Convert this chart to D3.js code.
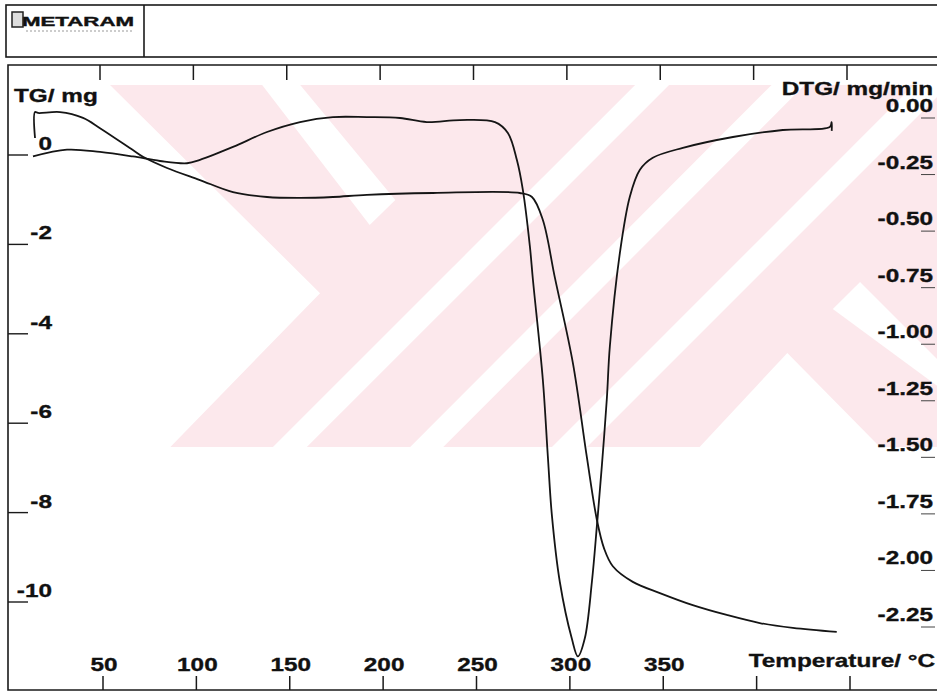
<!DOCTYPE html>
<html>
<head>
<meta charset="utf-8">
<script src="https://cdn.jsdelivr.net/npm/d3@7"></script>
<style>
  html, body { margin: 0; padding: 0; background: #fff; }
  svg { display: block; }
  text { font-family: "Liberation Sans", Arial, Helvetica, sans-serif; font-weight: bold; fill: #111; stroke: #111; stroke-width: 0.35px; }
</style>
</head>
<body>
<svg id="chart" width="937" height="692"></svg>
<script>
// Thermogravimetric trace: temperature (°C) and mass change (mg)
const tgTemperature = [13.6, 13.6, 15.2, 27, 39.3, 48.4, 66, 71.4, 84.3, 101.9, 119.6, 137.8, 155.5,
  173.1, 191.3, 226.7, 273.2, 279.7, 285.5, 292, 301.6, 309.1, 314.5, 318.3, 323, 333.7, 348.2,
  365.8, 384, 401.7, 419.4, 442.9];
const tgMass = [0.38, 0.96, 0.94, 0.96, 0.83, 0.60, 0.11, -0.04, -0.29, -0.56, -0.83, -0.94, -0.96,
  -0.94, -0.89, -0.85, -0.85, -0.94, -1.45, -2.75, -4.65, -6.76, -8.17, -8.80, -9.20, -9.55, -9.80,
  -10.07, -10.29, -10.47, -10.58, -10.67];

// Derivative trace: temperature (°C) and rate of mass change (mg/min)
const dtgTemperature = [12.5, 30.7, 48.4, 66, 80.5, 95, 101.9, 119.6, 137.8, 155.5, 173.1, 191.3, 209,
  223.4, 241.1, 259.9, 266.8, 271.6, 274.8, 278.6, 280.2, 285.5, 288.2, 290.4, 294.6, 301, 304.3,
  308, 311.8, 314.5, 317.1, 319.8, 321.4, 326.8, 332.1, 337.5, 344.4, 360.5, 387.3, 414, 439.2,
  440.2, 440.2];
const dtgRate = [-0.17, -0.14, -0.15, -0.17, -0.19, -0.20, -0.185, -0.128, -0.062, -0.018, 0.004, 0.004, 0.0,
  -0.018, -0.009, -0.018, -0.066, -0.185, -0.317, -0.569, -0.714, -1.155, -1.495, -1.759, -2.05, -2.30, -2.38,
  -2.30, -2.05, -1.80, -1.54, -1.24, -1.01, -0.595, -0.348, -0.229, -0.176, -0.132, -0.084, -0.053, -0.040,
  -0.018, -0.057];

// Axis ticks and labels
const tempTicks = [50, 100, 150, 200, 250, 300, 350, 400, 450];
const tempLabels = [50, 100, 150, 200, 250, 300, 350];
const tgTicks = [0, -2, -4, -6, -8, -10];
const dtgTicks = [0, -0.25, -0.5, -0.75, -1.0, -1.25, -1.5, -1.75, -2.0, -2.25];

// Background emblem: pink outline and white bands, in a 0..100 grid over the plot area
const emblemOutline = [[0, 0], [100, 0], [100, 100], [7.3, 100], [25.4, 57.5]];
const emblemBands = [
  [[18.4, 0], [23, 0], [34.5, 31.8], [31.4, 38.7]],
  [[19.7, 100], [23.8, 100], [67.6, 0], [63.5, 0]],
  [[36.3, 100], [40.3, 100], [84, 0], [80, 0]],
  [[53.45, 100], [57.68, 100], [100, 3.3], [100, 0], [97.2, 0]],
  [[71.3, 100], [81.9, 74], [93.1, 100]],
  [[87.4, 61.9], [90.7, 54.4], [100, 75.7], [100, 83.1]]
];

const svg = d3.select("#chart");
const W = 937, H = 692;

const x = d3.scaleLinear().domain([50, 450]).range([103, 850]);
const yTG = d3.scaleLinear().domain([0, -10]).range([155, 602]);
const yDTG = d3.scaleLinear().domain([0, -2.25]).range([118, 627]);

// emblem grid -> pixels
const ex = d3.scaleLinear().domain([0, 100]).range([110, 937]);
const ey = d3.scaleLinear().domain([0, 100]).range([85, 447]);
const polyPath = pts => "M" + pts.map(p => ex(p[0]) + "," + ey(p[1])).join("L") + "Z";

const defs = svg.append("defs");
defs.append("clipPath").attr("id", "emblemClip")
  .append("path").attr("d", polyPath(emblemOutline));

const emblem = svg.append("g");
emblem.append("path").attr("d", polyPath(emblemOutline)).attr("fill", "#fce8ec");
emblem.append("g").attr("clip-path", "url(#emblemClip)")
  .selectAll("path").data(emblemBands).join("path")
  .attr("d", polyPath).attr("fill", "#fff");

// Header strip with instrument logo
const ink = "#1a1a1a";
svg.append("rect").attr("x", 6).attr("y", 5).attr("width", W + 10).attr("height", 52)
  .attr("fill", "none").attr("stroke", ink).attr("stroke-width", 1.6);
svg.append("line").attr("x1", 144).attr("x2", 144).attr("y1", 5).attr("y2", 57)
  .attr("stroke", ink).attr("stroke-width", 1.6);
svg.append("rect").attr("x", 12).attr("y", 12).attr("width", 11).attr("height", 15)
  .attr("fill", "#ddd").attr("stroke", "#222").attr("stroke-width", 1.5);
svg.append("text").attr("x", 22).attr("y", 26)
  .attr("textLength", 112).attr("lengthAdjust", "spacingAndGlyphs")
  .style("font-size", "12px").text("METARAM");
svg.append("line").attr("x1", 26).attr("x2", 132).attr("y1", 31).attr("y2", 31)
  .attr("stroke", "#999").attr("stroke-width", 1).attr("stroke-dasharray", "2,2");

// Plot frame
svg.append("path")
  .attr("d", `M${W},65 L8,65 L8,690 L${W},690`)
  .attr("fill", "none").attr("stroke", ink).attr("stroke-width", 1.6);

// Temperature ticks, top and bottom
svg.append("g").selectAll("line").data(tempTicks).join("line")
  .attr("x1", d => x(d) - 3).attr("x2", d => x(d) - 3).attr("y1", 65).attr("y2", 80)
  .attr("stroke", ink).attr("stroke-width", 1.5);
svg.append("g").selectAll("line").data(tempTicks).join("line")
  .attr("x1", d => x(d)).attr("x2", d => x(d)).attr("y1", 676).attr("y2", 690)
  .attr("stroke", ink).attr("stroke-width", 1.5);

// TG ticks (left)
svg.append("g").selectAll("line").data(tgTicks).join("line")
  .attr("x1", 8).attr("x2", 28).attr("y1", d => yTG(d)).attr("y2", d => yTG(d))
  .attr("stroke", ink).attr("stroke-width", 1.4);

// DTG ticks (right)
svg.append("g").selectAll("line").data(dtgTicks).join("line")
  .attr("x1", 921).attr("x2", 935).attr("y1", d => yDTG(d)).attr("y2", d => yDTG(d))
  .attr("stroke", "#444").attr("stroke-width", 1);

// Labels: wide bold lettering
const SX = 1.28;
function label(px, py, str, anchor) {
  svg.append("text")
    .attr("transform", `translate(${px},${py}) scale(${SX},1)`)
    .attr("text-anchor", anchor)
    .style("font-size", "19px")
    .text(str);
}
tempLabels.forEach(t => label(x(t) + 1, 671, String(t), "middle"));
label(935, 667, "Temperature/ °C", "end");
tgTicks.forEach(v => label(52, yTG(v) - 5, d3.format("d")(v).replace("\u2212", "-"), "end"));
label(14, 102, "TG/ mg", "start");
dtgTicks.forEach(v => label(933, yDTG(v) - 6, d3.format(".2f")(v).replace("\u2212", "-"), "end"));
label(933, 95, "DTG/ mg/min", "end");

// Curves
const tgLine = d3.line().x(d => x(d[0])).y(d => yTG(d[1])).curve(d3.curveCatmullRom.alpha(0.5));
const dtgLine = d3.line().x(d => x(d[0])).y(d => yDTG(d[1])).curve(d3.curveCatmullRom.alpha(0.5));

svg.append("path")
  .datum(d3.zip(tgTemperature, tgMass))
  .attr("d", tgLine)
  .attr("fill", "none").attr("stroke", "#151515").attr("stroke-width", 1.8)
  .attr("stroke-linejoin", "round");
svg.append("path")
  .datum(d3.zip(dtgTemperature, dtgRate))
  .attr("d", dtgLine)
  .attr("fill", "none").attr("stroke", "#151515").attr("stroke-width", 1.8)
  .attr("stroke-linejoin", "round");
</script>
</body>
</html>
